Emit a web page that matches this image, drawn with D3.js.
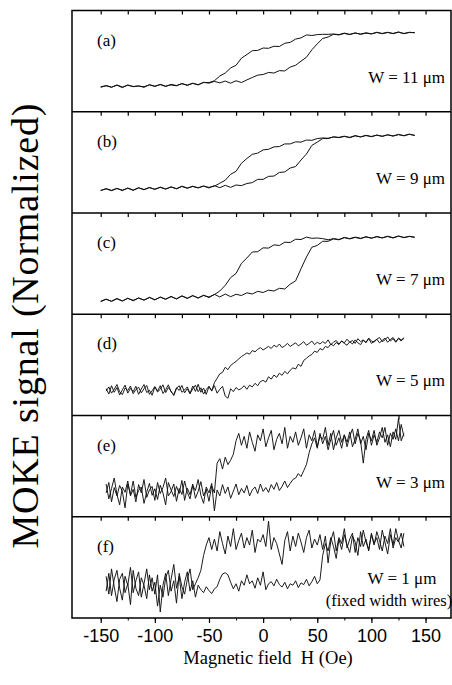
<!DOCTYPE html>
<html><head><meta charset="utf-8">
<script src="https://cdn.jsdelivr.net/npm/d3@7"></script>
<style>html,body{margin:0;padding:0;background:#fff;} svg{display:block;}</style>
</head><body>
<svg id="chart" width="452" height="685"></svg>
<script>
// ---- data ----
const fieldCoarse = [-150,-145,-140,-135,-130,-125,-120,-115,-110,-105,
 -100,-95,-90,-85,-80,-75,-70,-65,-60,-55,
 -50,-45,-40,-35,-30,-25,-20,-15,-10,-5,
 0,5,10,15,20,25,30,35,40,45,
 50,55,60,65,70,75,80,85,90,95,
 100,105,110,115,120,125,130,135,140];

const fieldFine = [-145,-142.5,-140,-137.5,-135,-132.5,-130,-127.5,-125,-122.5,
 -120,-117.5,-115,-112.5,-110,-107.5,-105,-102.5,-100,-97.5,
 -95,-92.5,-90,-87.5,-85,-82.5,-80,-77.5,-75,-72.5,
 -70,-67.5,-65,-62.5,-60,-57.5,-55,-52.5,-50,-47.5,
 -45,-42.5,-40,-37.5,-35,-32.5,-30,-27.5,-25,-22.5,
 -20,-17.5,-15,-12.5,-10,-7.5,-5,-2.5,0,2.5,
 5,7.5,10,12.5,15,17.5,20,22.5,25,27.5,
 30,32.5,35,37.5,40,42.5,45,47.5,50,52.5,
 55,57.5,60,62.5,65,67.5,70,72.5,75,77.5,
 80,82.5,85,87.5,90,92.5,95,97.5,100,102.5,
 105,107.5,110,112.5,115,117.5,120,122.5,125,127.5,130];

// (a) W = 11 um
const aUp = [-88,-82,-87,-81,-89,-80,-86,-83,-88,-79,
 -85,-78,-84,-80,-83,-75,-82,-74,-80,-71,
 -74,-68,-73,-67,-74,-66,-72,-63,-55,-47,
 -45,-38,-40,-32,-33,-20,-14,0,13,38,
 58,76,81,90,88,93,89,95,90,94,
 91,97,92,96,93,98,92,97,95];
const aDown = [-86,-83,-88,-80,-87,-81,-85,-84,-86,-80,
 -84,-79,-85,-78,-82,-76,-80,-75,-79,-72,
 -72,-66,-50,-40,-23,-14,10,22,35,36,
 44,43,50,49,60,63,74,78,88,86,
 89,90,90,91,89,94,90,94,91,95,
 92,96,93,97,92,97,93,96,96];
// (b) W = 9 um
const bUp = [-95,-88,-94,-87,-95,-86,-93,-85,-92,-84,
 -91,-83,-90,-82,-89,-81,-87,-80,-86,-79,
 -86,-78,-85,-77,-84,-76,-78,-71,-68,-57,
 -57,-47,-46,-34,-32,-19,-14,8,28,57,
 68,80,80,86,83,87,84,90,85,91,
 86,92,87,93,88,94,89,95,90];
const bDown = [-94,-89,-95,-88,-93,-87,-94,-86,-91,-85,
 -90,-84,-89,-83,-88,-80,-86,-81,-85,-80,
 -84,-80,-70,-60,-40,-30,-3,13,27,31,
 42,44,52,53,62,62,69,68,75,74,
 80,82,81,85,84,88,83,89,86,90,
 87,91,88,92,89,93,90,94,91];
// (c) W = 7 um
const cUp = [-128,-119,-127,-118,-126,-116,-125,-115,-123,-113,
 -122,-112,-120,-110,-119,-109,-117,-107,-116,-106,
 -114,-103,-112,-102,-111,-103,-107,-98,-102,-93,
 -97,-89,-92,-83,-85,-69,-58,-17,22,55,
 61,75,75,83,80,87,83,88,84,90,
 85,91,86,92,87,93,87,92,88];
const cDown = [-126,-120,-126,-117,-125,-117,-123,-116,-122,-114,
 -121,-113,-119,-111,-118,-108,-116,-108,-115,-107,
 -112,-104,-92,-73,-47,-33,1,19,39,40,
 53,52,63,61,72,71,82,81,89,85,
 86,84,80,84,81,88,84,89,85,90,
 86,90,87,91,86,92,88,91,89];
// (d) W = 5 um
const dUp = [-80,-98,-70,-92,-76,-101,-84,-68,-95,-79,
 -90,-72,-99,-81,-66,-93,-85,-102,-74,-88,
 -70,-96,-83,-67,-91,-100,-77,-86,-69,-94,
 -80,-97,-71,-89,-65,-92,-78,-99,-73,-87,
 -70,-95,-82,-72,-105,-112,-80,-90,-76,-84,
 -79,-70,-82,-68,-74,-62,-70,-56,-52,-58,
 -40,-48,-34,-42,-28,-35,-22,-30,-18,-10,
 -14,2,-5,15,22,30,35,46,42,55,
 50,62,58,70,64,75,68,80,72,66,
 78,70,84,74,68,82,76,88,72,80,
 86,74,82,90,76,85,92,78,88,80,92];
const dDown = [-88,-74,-95,-82,-66,-90,-100,-78,-86,-71,
 -97,-83,-75,-94,-80,-69,-99,-87,-73,-91,
 -82,-67,-93,-76,-88,-103,-79,-70,-92,-84,
 -74,-96,-81,-68,-90,-77,-98,-83,-72,-88,
 -60,-45,-30,-25,-8,-16,-2,5,12,20,
 28,34,40,36,48,44,52,58,50,56,
 62,55,66,60,70,58,64,72,62,68,
 74,64,70,78,66,72,80,68,76,70,
 78,72,84,68,76,82,70,80,74,86,
 76,82,72,88,78,84,74,90,80,76,
 86,92,78,84,94,80,88,76,90,84,88];
// (e) W = 3 um
const eUp = [-60,-110,-75,-40,-95,-130,-70,-88,-50,-100,
 -78,-120,-62,-90,-45,-105,-80,-68,-115,-55,
 -92,-72,-40,-100,-85,-60,-118,-75,-95,-50,
 -88,-110,-65,-82,-45,-98,-125,-70,-90,-58,
 -150,-80,-100,-62,-92,-70,-108,-84,-60,-96,
 -75,-90,-65,-100,-80,-70,-92,-60,-85,-72,
 -88,-62,-78,-55,-82,-68,-50,-72,-58,-45,
 -40,-25,-35,-15,5,45,75,95,60,110,
 75,100,55,90,120,70,95,60,105,80,
 115,65,90,125,75,100,55,110,85,120,
 70,95,130,80,105,65,115,90,160,85,110];
const eDown = [-90,-55,-120,-72,-100,-65,-85,-140,-60,-95,
 -50,-105,-82,-70,-125,-88,-58,-98,-76,-112,
 -64,-90,-130,-55,-80,-102,-68,-92,-48,-115,
 -74,-96,-60,-108,-85,-52,-100,-78,-118,-66,
 -90,10,25,-10,30,5,20,40,85,110,
 70,100,60,115,80,50,105,85,125,65,
 95,120,55,90,110,75,130,60,100,80,
 115,70,95,125,60,105,85,120,65,100,
 90,130,70,110,55,95,120,80,105,65,
 100,125,75,110,85,10,90,120,70,105,
 80,115,95,130,70,110,90,125,85,140,100];
// (f) W = 1 um
const fUp = [-80,-20,-95,-40,-10,-70,-110,-30,-60,0,
 -85,-45,-15,-100,-55,-5,-75,-35,-90,-25,
 -150,-60,-20,-95,-40,10,-70,-30,-105,-50,
 -15,-80,-45,-100,-60,-75,-85,-65,-78,-88,
 -72,-65,-40,-22,-18,-25,-50,-72,-55,-80,
 -45,-60,-25,-55,-45,-70,-35,-60,-15,-75,
 -55,-48,-62,-40,-58,-66,-50,-72,-55,-60,
 -45,-68,-52,-58,-40,-62,-48,-30,-55,-42,
 40,80,55,100,70,30,95,60,110,75,
 50,105,85,40,120,70,95,55,115,80,
 100,60,125,85,45,110,75,130,90,65,115];
const fDown = [-30,-90,-5,-65,-115,-40,-20,-85,-55,-125,
 -10,-70,-95,-35,-60,-105,-25,-80,-50,-130,
 -60,-100,-35,-10,-80,-45,-120,-20,-65,-90,
 -40,-5,-75,-55,-35,-10,40,75,100,60,
 95,55,120,80,45,105,70,130,60,90,
 115,65,100,75,125,50,95,85,110,70,
 155,60,100,80,45,10,90,120,55,105,
 70,115,85,50,100,125,65,95,75,110,
 60,105,15,90,120,55,100,80,130,65,
 95,115,50,100,70,125,85,60,110,75,
 120,90,55,105,80,130,65,100,85,115,70];

const panelLabels = ["(a)","(b)","(c)","(d)","(e)","(f)"];
const widthLabels = ["W = 11 \u03bcm","W = 9 \u03bcm","W = 7 \u03bcm","W = 5 \u03bcm","W = 3 \u03bcm","W = 1 \u03bcm"];
const widthNotes = ["","","","","","(fixed width wires)"];
const tickLabels = [-150,-100,-50,0,50,100,150];
const minorTicks = [-150,-125,-100,-75,-50,-25,0,25,50,75,100,125,150];
const xTitle = "Magnetic field  H (Oe)";
const yTitle = "MOKE signal (Normalized)";

// ---- drawing ----
const serif = "'Liberation Serif','Times New Roman',Times,serif";
const sans = "'Liberation Sans',Arial,Helvetica,sans-serif";
const svg = d3.select("#chart");
const left = 72, right = 451, top0 = 10.5, bottom = 618;
const nP = 6, pH = (bottom - top0) / nP;
const x = d3.scaleLinear().domain([-176.5, 173.5]).range([left, right]);
const y = d3.scaleLinear().domain([-170, 170]).range([pH, 0]);
const line = d3.line().x(d => x(d[0])).y(d => y(d[1]));

const panels = [
  {field: fieldCoarse, up: aUp, down: aDown, sw: 1.0},
  {field: fieldCoarse, up: bUp, down: bDown, sw: 1.0},
  {field: fieldCoarse, up: cUp, down: cDown, sw: 1.0},
  {field: fieldFine, up: dUp, down: dDown, sw: 0.95},
  {field: fieldFine, up: eUp, down: eDown, sw: 0.95},
  {field: fieldFine, up: fUp, down: fDown, sw: 0.95}
];

panels.forEach((p, i) => {
  const g = svg.append("g").attr("transform", `translate(0,${top0 + i * pH})`);
  const tk = g.append("g").call(d3.axisBottom(x).tickValues(minorTicks).tickSize(4).tickFormat(""));
  tk.select(".domain").remove();
  tk.selectAll("line").attr("stroke", "#000").attr("stroke-width", 1.2);
  [p.up, p.down].forEach(vals => {
    g.append("path")
      .datum(p.field.map((h, k) => [h, vals[k]]))
      .attr("d", line)
      .attr("fill", "none")
      .attr("stroke", "#111")
      .attr("stroke-width", p.sw)
      .attr("stroke-linejoin", "miter");
  });
  g.append("text").attr("x", 97).attr("y", 35)
    .attr("font-family", serif).attr("font-size", 17).text(panelLabels[i]);
  if (widthNotes[i]) {
    g.append("text").attr("x", 402).attr("y", 67).attr("text-anchor", "middle")
      .attr("font-family", serif).attr("font-size", 17).text(widthLabels[i]);
    g.append("text").attr("x", 389).attr("y", 89).attr("text-anchor", "middle")
      .attr("font-family", serif).attr("font-size", 16.5).text(widthNotes[i]);
  } else {
    g.append("text").attr("x", 445).attr("y", 72).attr("text-anchor", "end")
      .attr("font-family", serif).attr("font-size", 17).text(widthLabels[i]);
  }
  if (i > 0) {
    g.append("line").attr("x1", left).attr("x2", right).attr("y1", 0).attr("y2", 0)
      .attr("stroke", "#000").attr("stroke-width", 1.4);
  }
});

svg.append("rect").attr("x", left).attr("y", top0).attr("width", right - left).attr("height", bottom - top0)
  .attr("fill", "none").attr("stroke", "#000").attr("stroke-width", 1.5);

const ax = svg.append("g").attr("transform", `translate(0,${bottom})`)
  .call(d3.axisBottom(x).tickValues(tickLabels).tickSize(5).tickPadding(6).tickFormat(d => String(d)));
ax.select(".domain").remove();
ax.selectAll("line").attr("stroke", "#000").attr("stroke-width", 1.2);
ax.selectAll("text").attr("font-family", sans).attr("font-size", 18).attr("fill", "#000");
const axm = svg.append("g").attr("transform", `translate(0,${bottom})`)
  .call(d3.axisBottom(x).tickValues(minorTicks).tickSize(2.5).tickFormat(""));
axm.select(".domain").remove();
axm.selectAll("line").attr("stroke", "#000").attr("stroke-width", 1);

svg.append("text").attr("x", 268).attr("y", 664).attr("text-anchor", "middle")
  .attr("font-family", serif).attr("font-size", 18.5)
  .style("white-space", "pre").text(xTitle);
svg.append("text").attr("transform", "translate(38,326) rotate(-90)").attr("text-anchor", "middle")
  .attr("font-family", serif).attr("font-size", 38)
  .attr("textLength", 445).attr("lengthAdjust", "spacing").text(yTitle);
</script>
</body></html>
